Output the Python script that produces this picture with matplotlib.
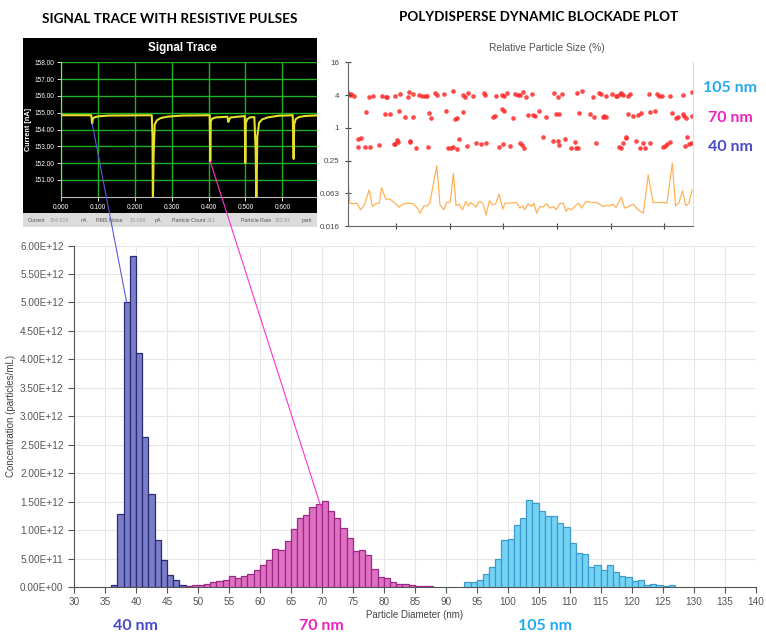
import numpy as np
import matplotlib.pyplot as plt
from matplotlib.patches import Rectangle, ConnectionPatch

W, H = 766, 635


def fx(x):
    return x / W


def fy(y):
    return 1 - y / H


# size distribution, 1 nm bins, concentration in 1e12 particles/mL
blue_start = 36
blue_vals = [0.03, 1.28, 5.00, 5.81, 4.12, 2.63, 1.63, 0.82, 0.47, 0.205, 0.12, 0.03, 0.01]
pink_start = 48
pink_vals = [0.02, 0.04, 0.03, 0.06, 0.08, 0.10, 0.12, 0.20, 0.15, 0.20, 0.23, 0.29, 0.39,
             0.48, 0.67, 0.65, 0.81, 1.02, 1.22, 1.27, 1.40, 1.46, 1.51, 1.34, 1.22, 1.04,
             0.86, 0.64, 0.65, 0.57, 0.32, 0.18, 0.15, 0.08, 0.06, 0.05, 0.03, 0.02, 0.015, 0.015]
cyan_start = 93
cyan_vals = [0.08, 0.08, 0.13, 0.23, 0.36, 0.49, 0.82, 0.85, 1.09, 1.22, 1.53, 1.47, 1.33,
             1.25, 1.25, 1.12, 1.05, 0.78, 0.60, 0.58, 0.35, 0.38, 0.30, 0.38, 0.26, 0.20,
             0.18, 0.11, 0.13, 0.035, 0.06, 0.03, 0.02, 0.03]

# signal trace (s, nA)
sig_t = [0.0, 0.082, 0.0845, 0.086, 0.09, 0.10, 0.13,
         0.246, 0.248, 0.249, 0.251, 0.254, 0.26, 0.27, 0.29, 0.33,
         0.403, 0.4045, 0.406, 0.41, 0.42,
         0.451, 0.4535, 0.456, 0.46,
         0.498, 0.4995, 0.501, 0.505, 0.512,
         0.524, 0.5275, 0.5295, 0.532, 0.537, 0.545, 0.56, 0.59,
         0.628, 0.6305, 0.632, 0.636, 0.645, 0.66, 0.70]
sig_i = [154.85, 154.85, 154.35, 154.62, 154.72, 154.78, 154.83,
         154.85, 153.6, 149.5, 152.5, 154.3, 154.55, 154.68, 154.77, 154.83,
         154.85, 152.1, 154.5, 154.65, 154.72,
         154.76, 154.45, 154.62, 154.72,
         154.8, 152.0, 154.4, 154.62, 154.72,
         154.74, 152.8, 149.5, 153.6, 154.4, 154.6, 154.72, 154.82,
         154.85, 152.25, 154.3, 154.62, 154.74, 154.8, 154.85]

# dynamic blockade plot, relative particle size (%)
top_t = [0.11, 0.14, 0.17, 0.22, 0.50, 0.58, 0.73, 0.81, 0.84, 0.98, 1.07, 1.22, 1.25, 1.32,
         1.43, 1.48, 1.54, 1.57, 1.73, 1.77, 1.89, 2.07, 2.25, 2.28, 2.35, 2.44, 2.64, 2.66,
         2.87, 2.98, 3.02, 3.07,
         3.22, 3.28, 3.32, 3.37, 3.42, 3.53, 3.95, 4.02, 4.10, 4.38, 4.46, 4.67, 4.79, 4.83,
         4.91, 5.03, 5.10, 5.12, 5.17, 5.20, 5.23, 5.33, 5.37, 5.71, 5.87, 5.90, 5.95, 6.10,
         6.34, 6.51]
top_v = [4.29, 4.0, 4.17, 3.89, 3.73, 3.89, 3.89, 3.62, 3.62, 3.89, 4.11, 3.73, 4.6, 4.17,
         4.0, 3.89, 3.83, 3.89, 4.4, 4.0, 4.17, 4.72, 4.0, 3.73, 4.4, 3.89, 4.4, 4.0,
         3.89, 4.0, 3.83, 4.4,
         4.11, 4.0, 4.0, 4.6, 3.62, 4.17, 4.29, 3.73, 4.11, 4.4, 4.8, 3.73, 4.4, 4.17,
         3.83, 4.17, 3.89, 3.83, 4.17, 4.4, 4.0, 3.89, 4.11, 4.11, 4.17, 3.83, 3.83, 3.89,
         3.94, 4.6]
mid_t = [0.44, 0.79, 0.88, 1.06, 1.17, 1.31, 1.61, 1.65, 1.93, 2.10, 2.14, 2.24, 2.80, 2.84,
         2.97, 3.01,
         3.18, 3.46, 3.56, 3.59, 3.67, 3.79, 3.99, 4.04, 4.41, 4.61, 4.69, 4.85, 4.88, 4.92,
         5.33, 5.41, 5.51, 5.56, 5.74, 5.83, 6.15, 6.21, 6.26, 6.34, 6.36, 6.40, 6.52]
mid_v = [1.92, 1.76, 1.79, 2.03, 1.56, 1.56, 1.84, 1.53, 2.06, 1.45, 1.53, 1.92, 1.60, 1.67,
         2.18, 2.06,
         1.50, 1.72, 1.72, 1.64, 2.06, 1.56, 1.76, 1.79, 1.84, 1.76, 1.60, 1.60, 1.64, 1.56,
         1.76, 1.67, 1.72, 1.89, 1.92, 2.03, 1.89, 1.53, 1.56, 1.76, 1.67, 1.50, 1.64]
low_t = [0.29, 0.35, 0.29, 0.42, 0.52, 0.68, 0.96, 0.99, 1.01, 1.04, 1.26, 1.27, 1.38, 1.60,
         1.97, 2.02, 2.07, 2.13, 2.18, 2.33, 2.50, 2.58, 2.67, 2.92, 3.00,
         3.12, 3.31, 3.34, 3.38, 3.74, 3.92, 4.02, 4.04, 4.15, 4.26, 4.33, 4.35, 4.40, 4.72,
         5.16, 5.20, 5.23, 5.28, 5.29, 5.47, 5.54, 5.61, 5.65, 5.73, 5.97, 6.01, 6.05, 6.10,
         6.38, 6.42, 6.46, 6.49]
low_v = [0.614, 0.659, 0.45, 0.438, 0.438, 0.483, 0.504, 0.504, 0.597, 0.556, 0.556, 0.58,
         0.432, 0.438, 0.432, 0.432, 0.438, 0.408, 0.614, 0.47, 0.519, 0.504, 0.519, 0.45, 0.497,
         0.463, 0.533, 0.483, 0.42, 0.687, 0.58, 0.572, 0.483, 0.623, 0.432, 0.541, 0.432,
         0.42, 0.519, 0.45, 0.42, 0.519, 0.659, 0.687, 0.58, 0.432, 0.519, 0.42, 0.519, 0.45,
         0.47, 0.504, 0.541, 0.47, 0.687, 0.497, 0.519]
noise_t = [0.10, 0.14, 0.19, 0.27, 0.34, 0.41, 0.50, 0.56, 0.64, 0.69, 0.73, 0.81, 0.89, 0.98,
           1.06, 1.14, 1.23, 1.32, 1.40, 1.45, 1.52, 1.58, 1.63, 1.76, 1.82, 1.89, 1.94, 2.01,
           2.07, 2.12, 2.18, 2.24, 2.30, 2.35, 2.39, 2.44, 2.49, 2.55, 2.62, 2.68, 2.74, 2.80,
           2.86, 2.92, 2.99, 3.03, 3.11,
           3.25, 3.31, 3.36, 3.40, 3.46, 3.53, 3.57, 3.62, 3.68, 3.74, 3.81, 3.87, 3.93, 3.99,
           4.05, 4.12, 4.17, 4.21, 4.27, 4.33, 4.40, 4.46, 4.54, 4.61, 4.71, 4.77, 4.85, 4.92,
           4.98, 5.05, 5.10, 5.20, 5.26, 5.34, 5.42, 5.51, 5.61, 5.70, 5.79, 5.88, 5.98, 6.05,
           6.15, 6.21, 6.27, 6.34, 6.40, 6.46, 6.52]
noise_v = [0.110, 0.0411, 0.040, 0.0411, 0.031, 0.0383, 0.0723, 0.0357, 0.0411, 0.0411, 0.0797,
           0.0487, 0.0487, 0.0411, 0.0347, 0.040, 0.0411, 0.040, 0.0333, 0.0269, 0.0367, 0.0367,
           0.0411, 0.199, 0.0383, 0.031, 0.0423, 0.0423, 0.146, 0.0367, 0.0394, 0.031, 0.0441,
           0.0367, 0.0423, 0.0394, 0.0347, 0.0441, 0.0411, 0.0247, 0.0454, 0.0383, 0.040, 0.061,
           0.0319, 0.0411, 0.0411,
           0.0423, 0.0333, 0.0367, 0.031, 0.040, 0.0357, 0.0411, 0.0269, 0.0357, 0.0347, 0.040,
           0.0333, 0.0357, 0.031, 0.040, 0.0411, 0.0289, 0.0333, 0.031, 0.0357, 0.0411, 0.0333,
           0.0441, 0.0429, 0.0423, 0.0411, 0.0357, 0.0372, 0.0367, 0.0394, 0.0342, 0.053, 0.0333,
           0.0357, 0.0394, 0.031, 0.0269, 0.136, 0.0423, 0.0423, 0.0423, 0.0411, 0.223, 0.0367,
           0.0411, 0.0691, 0.0367, 0.0411, 0.0723]

# pulse -> histogram links: (time s, current nA) -> (diameter nm, conc 1e12/mL)
link_from = [(0.0845, 154.35), (0.4045, 152.1), (0.524, 149.8)]
link_to = [(38.5, 5.0), (70.0, 1.36), (103.0, 1.54)]
link_colors = ['#5a5ae6', '#ff33cc', '#3ab8e8']

plt.rcParams['font.family'] = ['Liberation Sans', 'DejaVu Sans']

fig = plt.figure(figsize=(W / 100, H / 100), dpi=100)

# ---------------- main histogram ----------------
ax = fig.add_axes([fx(74), fy(587), fx(755.5) - fx(74), fy(245.5) - fy(587)])
for start, vals, fc, ec in [(blue_start, blue_vals, '#7a7dca', '#2b2b70'),
                            (pink_start, pink_vals, '#e070c2', '#9a2a86'),
                            (cyan_start, cyan_vals, '#74d3f4', '#3d9bcc')]:
    edges = np.arange(start, start + len(vals))
    ax.bar(edges, np.array(vals) * 1e12, width=1, align='edge', facecolor=fc,
           edgecolor=ec, linewidth=0.9, zorder=3)
ax.set_xlim(30, 140)
ax.set_ylim(0, 6e12)
ax.set_xticks(np.arange(30, 141, 5))
ax.set_yticks(np.arange(0, 6.01e12, 0.5e12))
ax.set_yticklabels(['{:.2E}'.format(v) for v in np.arange(0, 6.01e12, 0.5e12)])
ax.grid(True, color='#e6e6e6', lw=0.8, zorder=0)
ax.set_axisbelow(True)
for s in ['top', 'right']:
    ax.spines[s].set_visible(False)
for s in ['left', 'bottom']:
    ax.spines[s].set_color('#555555')
ax.tick_params(labelsize=7.2, colors='#555555', length=4, width=0.8)
ax.set_xlabel('Particle Diameter (nm)', fontsize=7, color='#444444', labelpad=2)
ax.set_ylabel('Concentration (particles/mL)', fontsize=7, color='#444444', labelpad=3)

# ---------------- signal trace panel ----------------
fig.add_artist(Rectangle((fx(22.7), fy(213)), fx(316.7) - fx(22.7), fy(38) - fy(213),
                         transform=fig.transFigure, facecolor='black', edgecolor='none', zorder=-2))
fig.add_artist(Rectangle((fx(22.7), fy(227)), fx(316.7) - fx(22.7), fy(213) - fy(227),
                         transform=fig.transFigure, facecolor='#dcdcdc', edgecolor='none', zorder=-2))
ax_s = fig.add_axes([fx(61), fy(196.7), fx(316.7) - fx(61), fy(62.3) - fy(196.7)])
ax_s.set_facecolor('black')
ax_s.plot(sig_t, sig_i, color='#e8e02a', lw=1.5, zorder=3)
ax_s.set_xlim(0, 0.693)
ax_s.set_ylim(150.0, 158.0)
ax_s.set_xticks(np.arange(0, 0.61, 0.1))
ax_s.set_xticklabels(['{:.3f}'.format(v) for v in np.arange(0, 0.61, 0.1)])
ax_s.set_yticks(np.arange(151, 158.5, 1))
ax_s.set_yticklabels(['{:.2f}'.format(v) for v in np.arange(151, 158.5, 1)])
for s in ['top', 'right']:
    ax_s.spines[s].set_visible(False)
for s in ['left', 'bottom']:
    ax_s.spines[s].set_color('#bbbbbb')
ax_s.tick_params(labelsize=4.7, colors='white', length=3, width=0.6, pad=2)
ax_s.grid(True, color='#22b022', lw=1.0)
fig.text(fx(28.3), fy(129.5), 'Current [nA]', fontsize=5.2, color='white',
         fontweight='bold', rotation=90, ha='center', va='center')
fig.text(fx(182.8), fy(48.3), 'Signal Trace', color='white', fontsize=8.4,
         fontweight='bold', ha='center', va='center')
status = [(27.3, 'Current', '#555555'), (50, '154.816', '#999999'), (81, 'nA', '#555555'),
          (96, 'RMS Noise', '#555555'), (130, '15.098', '#999999'), (155, 'pA', '#555555'),
          (171.7, 'Particle Count', '#555555'), (207, '311', '#999999'),
          (240.7, 'Particle Rate', '#555555'), (275, '322.91', '#999999'),
          (302, 'parti', '#555555')]
for x, txt, c in status:
    fig.text(fx(x), fy(220.7), txt, fontsize=3.8, color=c, ha='left', va='center')

# ---------------- dynamic blockade plot ----------------
ax_b = fig.add_axes([fx(347.7), fy(226), fx(692.7) - fx(347.7), fy(62.3) - fy(226)])
ax_b.set_yscale('log', base=2)
ax_b.plot(noise_t, noise_v, color='#ffaa44', lw=0.9, alpha=0.9)
for t, v in [(top_t, top_v), (mid_t, mid_v), (low_t, low_v)]:
    ax_b.scatter(t, v, s=11, color='#ff2a2a', alpha=0.85, linewidths=0)
ax_b.set_xlim(0.1, 6.53)
ax_b.set_ylim(2 ** -6, 2 ** 4)
ax_b.set_yticks([16, 4, 1, 0.25, 0.0625, 0.015625])
ax_b.set_yticklabels(['16', '4', '1', '0.25', '0.063', '0.016'])
ax_b.yaxis.set_minor_locator(plt.NullLocator())
ax_b.set_xticks(np.arange(1, 7))
ax_b.set_xticklabels([])
ax_b.spines['top'].set_visible(False)
ax_b.spines['right'].set_color('#dddddd')
for s in ['left', 'bottom']:
    ax_b.spines[s].set_color('#666666')
ax_b.tick_params(labelsize=5.8, colors='#444444', direction='inout', length=5, width=0.8)
fig.text(fx(546.7), fy(47.7), 'Relative Particle Size (%)', fontsize=7.4, color='#555555',
         ha='center', va='center')

# ---------------- headings and size labels ----------------
fig.text(fx(170), fy(19), 'SIGNAL TRACE WITH RESISTIVE PULSES', fontsize=9.7,
         fontweight='bold', family='Lato', ha='center', va='center')
fig.text(fx(539), fy(17.3), 'POLYDISPERSE DYNAMIC BLOCKADE PLOT', fontsize=9.7,
         fontweight='bold', family='Lato', ha='center', va='center')
size_txt = ['105 nm', '70 nm', '40 nm']
size_col = ['#22aaee', '#ee22bb', '#4a4ac8']
for txt, c, y in zip(size_txt, size_col, [88.3, 118.3, 146.7]):
    fig.text(fx(730), fy(y), txt, fontsize=11.5, fontweight='bold', family='Lato',
             color=c, ha='center', va='center')
for txt, c, x in zip(size_txt[::-1], size_col[::-1], [135.5, 321.7, 544.5]):
    fig.text(fx(x), fy(626), txt, fontsize=11.5, fontweight='bold', family='Lato',
             color=c, ha='center', va='center')

# ---------------- links ----------------
for a, b, c in zip(link_from, link_to, link_colors):
    con = ConnectionPatch(xyA=a, coordsA='data', axesA=ax_s,
                          xyB=(b[0], b[1] * 1e12), coordsB='data', axesB=ax,
                          color=c, lw=0.8)
    fig.add_artist(con)

fig.savefig('out.png', dpi=100)
